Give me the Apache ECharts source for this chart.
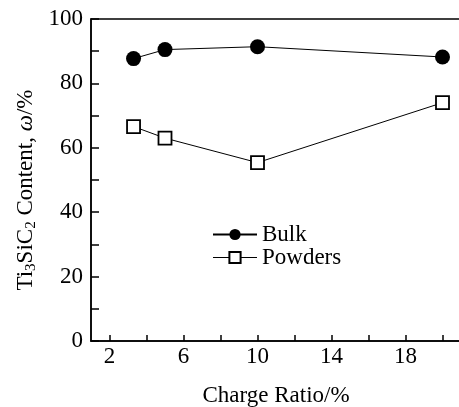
<!DOCTYPE html>
<html>
<head>
<meta charset="utf-8">
<script src="https://cdn.jsdelivr.net/npm/echarts@6/dist/echarts.min.js"></script>
<style>
  html, body { margin: 0; padding: 0; background: #fff; }
  #chart { width: 459px; height: 407px; }
</style>
</head>
<body>
<div id="chart"></div>
<script>
// 数据
const bulkX = [3.3, 5, 10, 20]
const bulkY = [87.7, 90.5, 91.4, 88.2]
const powderX = [3.3, 5, 10, 20]
const powderY = [66.6, 63.0, 55.4, 74.0]
const xTicks = [2, 4, 6, 8, 10, 12, 14, 16, 18, 20]
const xLabels = [2, 6, 10, 14, 18]
const yLabels = [0, 20, 40, 60, 80, 100]

const font = 'Liberation Serif'
const fs = 23
const chart = echarts.init(document.getElementById('chart'))

const pair = (xs, ys) => xs.map((x, i) => [x, ys[i]])

const option = {
  animation: false,
  textStyle: {fontFamily: font, color: '#000'},
  grid: {
    left: 91,
    top: 19,
    width: 370,
    height: 322,
    outerBoundsMode: 'none',
    show: true,
    borderColor: '#000',
    borderWidth: 1.5,
  },
  legend: {
    orient: 'vertical',
    left: 207,
    top: 218,
    itemWidth: 44,
    itemHeight: 14,
    itemGap: 0,
    textStyle: {fontFamily: font, fontSize: fs, color: '#000'},
    data: [
      {name: 'Bulk', lineStyle: {width: 2}},
      {name: 'Powders', lineStyle: {width: 1}},
    ],
  },
  xAxis: {
    type: 'value',
    min: 1,
    max: 21,
    name: 'Charge Ratio/%',
    nameLocation: 'middle',
    nameGap: 43,
    nameTextStyle: {fontFamily: font, fontSize: fs, color: '#000'},
    axisLine: {lineStyle: {color: '#000', width: 1.5}},
    axisTick: {inside: true, length: 6, customValues: xTicks, lineStyle: {color: '#000', width: 1.5}},
    axisLabel: {customValues: xLabels, fontFamily: font, fontSize: fs, color: '#000', margin: 4},
    splitLine: {show: false},
  },
  yAxis: {
    type: 'value',
    min: 0,
    max: 100,
    interval: 10,
    axisLine: {show: true, lineStyle: {color: '#000', width: 1.5}},
    axisTick: {inside: true, length: 8, lineStyle: {color: '#000', width: 1.5}},
    axisLabel: {customValues: yLabels, fontFamily: font, fontSize: fs, color: '#000', margin: 8},
    splitLine: {show: false},
  },
  graphic: [
    {
      type: 'text',
      x: 26,
      y: 190,
      rotation: Math.PI / 2,
      style: {
        text: 'Ti{s|3}SiC{s|2} Content, {i|ω}/%',
        fontFamily: font,
        fontSize: fs,
        fill: '#000',
        align: 'center',
        verticalAlign: 'middle',
        rich: {
          s: {fontFamily: font, fontSize: 15, fill: '#000', padding: [11, 0, 0, 0]},
          i: {fontFamily: font, fontSize: fs, fontStyle: 'italic', fill: '#000'},
        },
      },
    },
  ],
  series: [
    {
      name: 'Bulk',
      type: 'line',
      data: pair(bulkX, bulkY),
      symbol: 'circle',
      symbolSize: 15,
      itemStyle: {color: '#000'},
      lineStyle: {color: '#000', width: 1},
    },
    {
      name: 'Powders',
      type: 'line',
      data: pair(powderX, powderY),
      symbol: 'rect',
      symbolSize: 13,
      itemStyle: {color: '#fff', borderColor: '#000', borderWidth: 1.8},
      lineStyle: {color: '#000', width: 1},
    },
  ],
}

chart.setOption(option)
</script>
</body>
</html>
